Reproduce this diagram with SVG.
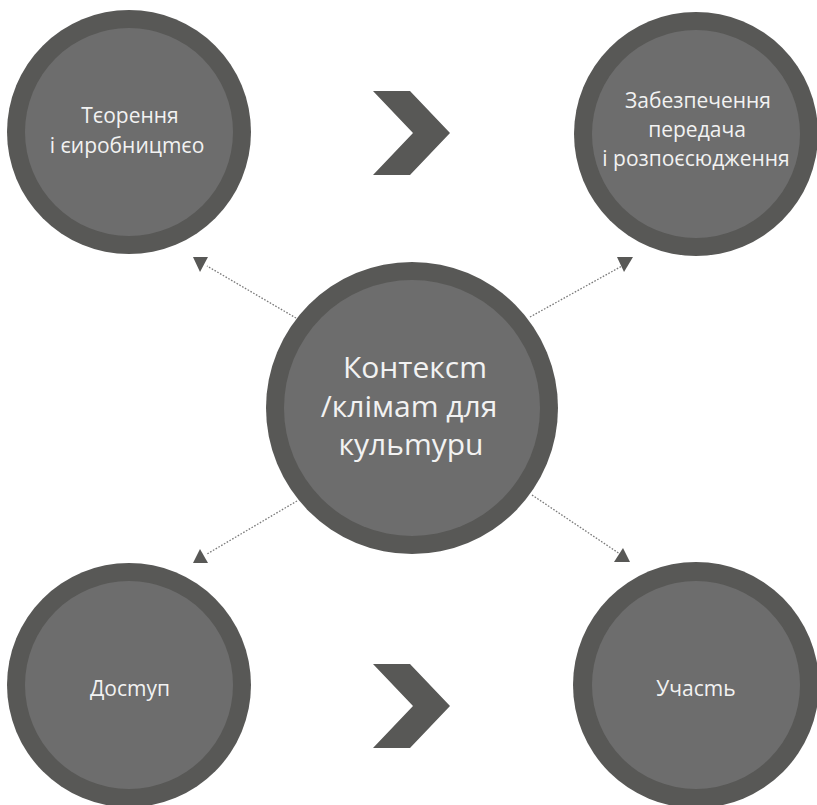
<svg xmlns="http://www.w3.org/2000/svg" width="817" height="805" viewBox="0 0 817 805">
<defs>
<style>
.outer{fill:#585856;}
.inner{fill:#6d6d6d;}
.lbl{fill:#f2f2f2;font-family:"Open Sans","Noto Sans",sans-serif;text-anchor:middle;}
.sm{font-size:21px;}
.lg{font-size:30px;}
.chev{fill:#585856;}
.conn{stroke:#7a7a7a;stroke-width:1.3;stroke-dasharray:1.6 1.6;fill:none;}
.head{fill:#585856;}
</style>
</defs>
<rect width="817" height="805" fill="#ffffff"/>
<g id="connectors">
<line class="conn" x1="296" y1="318" x2="207" y2="266"/>
<polygon class="head" points="193,257 208,257 200,272"/>
<line class="conn" x1="530" y1="317" x2="622" y2="266"/>
<polygon class="head" points="617,257 633,257 624,272"/>
<line class="conn" x1="297" y1="501" x2="207" y2="554"/>
<polygon class="head" points="193,563 208,563 200,549"/>
<line class="conn" x1="532" y1="495" x2="620" y2="554"/>
<polygon class="head" points="614,562 630,562 623,548"/>
<polygon class="chev" points="373,91 410,91 450,133 410,175 373,175 413,133"/>
<polygon class="chev" points="373,664 410,664 450,706 410,748 373,748 413,706"/>
</g>
<g id="node-create">
<circle class="outer" cx="129" cy="132" r="122"/>
<circle class="inner" cx="129" cy="132" r="104"/>
<text class="lbl sm" x="130" y="123">Тєорення</text>
<text class="lbl sm" x="127" y="153">і єиробницmєо</text>
</g>
<g id="node-provide">
<circle class="outer" cx="696" cy="134" r="122"/>
<circle class="inner" cx="696" cy="134" r="104"/>
<text class="lbl sm" x="698" y="108">Забезпечення</text>
<text class="lbl sm" x="697" y="137">передача</text>
<text class="lbl sm" x="696" y="166">і розпоєсюдження</text>
</g>
<g id="node-context">
<circle class="outer" cx="412" cy="408" r="146"/>
<circle class="inner" cx="412" cy="408" r="128"/>
<text class="lbl lg" x="415" y="378">Контексm</text>
<text class="lbl lg" x="409" y="417">/клімam для</text>
<text class="lbl lg" x="411" y="455">кульmypu</text>
</g>
<g id="node-access">
<circle class="outer" cx="129" cy="685" r="122"/>
<circle class="inner" cx="129" cy="685" r="104"/>
<text class="lbl sm" x="130" y="696">Досmуп</text>
</g>
<g id="node-participate">
<circle class="outer" cx="696" cy="685" r="123"/>
<circle class="inner" cx="696" cy="685" r="104"/>
<text class="lbl sm" x="696" y="696">Учасmь</text>
</g>
</svg>
